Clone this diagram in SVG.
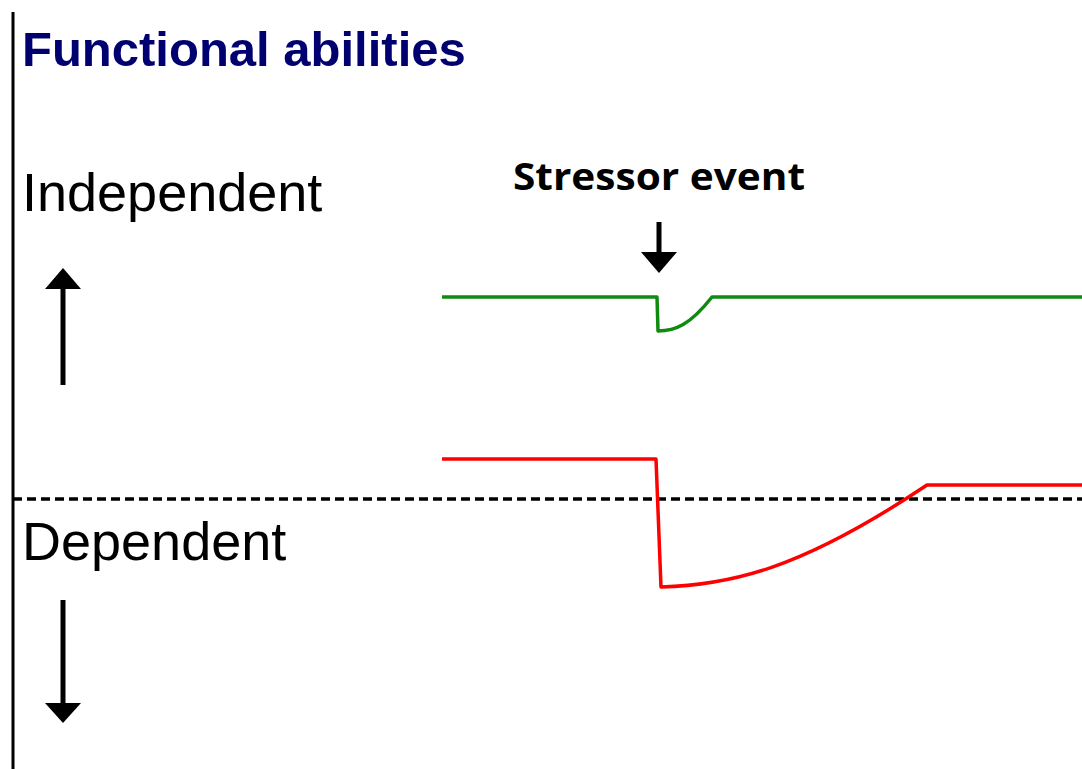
<svg xmlns="http://www.w3.org/2000/svg" width="1082" height="769" viewBox="0 0 1082 769">
<style>
.lbl{font-family:"Liberation Sans",Arial,sans-serif;fill:#000}
.title{font-family:"Liberation Sans",Arial,sans-serif;font-weight:bold;fill:#000070}
.ev{font-family:"Open Sans","Liberation Sans",sans-serif;font-weight:bold;fill:#000}
.ax{stroke:#000;stroke-width:3;fill:none}
.shaft{stroke:#000;stroke-width:5;fill:none}
.head{fill:#000}
</style>
<rect width="1082" height="769" fill="#fff"/>
<g id="axis">
<line class="ax" x1="13" y1="12" x2="13" y2="769"/>
<line x1="13" y1="499" x2="1082" y2="499" stroke="#000" stroke-width="3.5" stroke-dasharray="9,5"/>
</g>
<g id="title"><text class="title" x="22" y="66" font-size="49">Functional abilities</text></g>
<g id="independent"><text class="lbl" x="22" y="211" font-size="54">Independent</text></g>
<g id="dependent"><text class="lbl" x="22" y="560" font-size="54">Dependent</text></g>
<g id="stressor">
<text class="ev" x="513" y="190" font-size="38" textLength="292" lengthAdjust="spacingAndGlyphs">Stressor event</text>
</g>
<g id="connectors">
<line class="shaft" x1="63" y1="385" x2="63" y2="287"/>
<polygon class="head" points="45,289 81,289 63,268"/>
<line class="shaft" x1="63" y1="600" x2="63" y2="705"/>
<polygon class="head" points="45,703 81,703 63,723"/>
<line class="shaft" x1="659" y1="222" x2="659" y2="254"/>
<polygon class="head" points="641,252 677,252 659,273"/>
</g>
<g id="green-curve">
<path d="M442 297 H657 L658 331 C675 331 690 325 712 297 H1082" fill="none" stroke="#108a10" stroke-width="3.5" stroke-linejoin="round"/>
</g>
<g id="red-curve">
<path d="M442 459 H656 L661 587 C730 585 800 570 927 485 H1082" fill="none" stroke="#ff0000" stroke-width="3.5" stroke-linejoin="round"/>
</g>
</svg>
